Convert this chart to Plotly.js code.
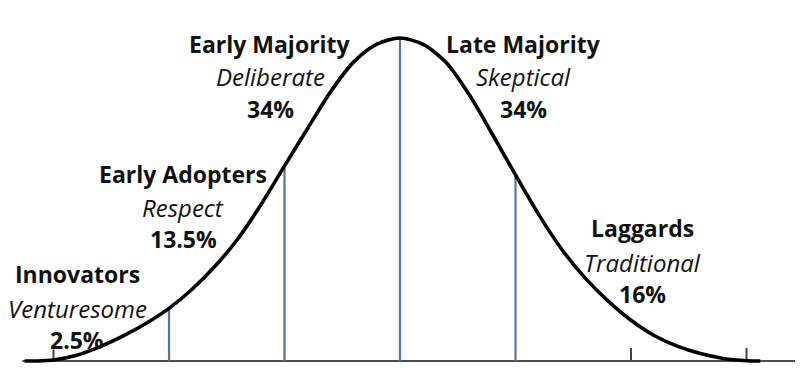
<!DOCTYPE html>
<html>
<head>
<meta charset="utf-8">
<script src="https://cdn.plot.ly/plotly-3.0.1.min.js"></script>
<style>
  html, body { margin: 0; padding: 0; background: #ffffff; }
  #chart { width: 800px; height: 374px; }
</style>
</head>
<body>
<div id="chart"></div>
<script>
// Curve: x in standard deviations, y in % of peak height
const curveX = [-3.25, -3.15, -3.0, -2.8, -2.6, -2.4, -2.2, -2.0, -1.8, -1.6, -1.4, -1.2, -1.0, -0.8, -0.6, -0.4, -0.2, 0.0,
                0.2, 0.4, 0.6, 0.8, 1.0, 1.2, 1.4, 1.6, 1.8, 2.0, 2.2, 2.4, 2.6, 2.8, 3.0, 3.12];
const curveY = [0, 0, 0.3, 1.8, 4.4, 7.7, 11.6, 16.3, 22.2, 29.4, 38.0, 48.6, 60.4, 72.0, 83.4, 92.6, 98.1, 100,
                98.0, 92.4, 82.4, 70.2, 57.6, 45.4, 34.6, 25.8, 18.6, 12.6, 7.9, 4.6, 2.3, 0.8, 0.1, 0];

// Segment dividers (blue) and their heights where they meet the curve
const dividerX = [-2, -1, 0, 1];
const dividerTop = [16.3, 60.4, 100, 57.6];

// Small tick marks on the baseline
const tickX = [-3, 2, 3];
const tickTop = [3.6, 4.0, 4.0];

// Baseline extent
const baselineX = [-3.27, 3.42];

// Categories
const groups = ["Innovators", "Early Adopters", "Early Majority", "Late Majority", "Laggards"];
const traits = ["Venturesome", "Respect", "Deliberate", "Skeptical", "Traditional"];
const shares = ["2.5%", "13.5%", "34%", "34%", "16%"];

// Label placement (pixels: center x, center y of the three lines)
const labelPos = [
  {x: 77,  y: [274, 308, 340]},
  {x: 183, y: [174, 207, 239]},
  {x: 270, y: [44, 77, 109]},
  {x: 523, y: [44, 77, 109]},
  {x: 642, y: [228, 262, 294]}
];

const W = 800, H = 374;
const FONT = '"Open Sans", "Noto Sans", sans-serif';

const traces = [];

// baseline
traces.push({
  x: baselineX, y: [0, 0], mode: 'lines', type: 'scatter',
  line: {color: '#4d4d4d', width: 2}, hoverinfo: 'skip'
});

// ticks
const tx = [], ty = [];
tickX.forEach((v, i) => { tx.push(v, v, null); ty.push(0, tickTop[i], null); });
traces.push({
  x: tx, y: ty, mode: 'lines', type: 'scatter',
  line: {color: '#444444', width: 2}, hoverinfo: 'skip'
});

// dividers
const dx = [], dy = [];
dividerX.forEach((v, i) => { dx.push(v, v, null); dy.push(0, dividerTop[i], null); });
traces.push({
  x: dx, y: dy, mode: 'lines', type: 'scatter',
  line: {color: '#4f73ad', width: 2.2}, hoverinfo: 'skip'
});

// bell curve
traces.push({
  x: curveX, y: curveY, mode: 'lines', type: 'scatter',
  line: {color: '#000000', width: 3.6, shape: 'spline', smoothing: 0.8}, hoverinfo: 'skip'
});

const annotations = [];
groups.forEach((g, i) => {
  const p = labelPos[i];
  const lines = [
    {text: '<b>' + g + '</b>', size: 23},
    {text: '<i>' + traits[i] + '</i>', size: 24},
    {text: '<b>' + shares[i] + '</b>', size: 23}
  ];
  lines.forEach((ln, j) => {
    annotations.push({
      xref: 'paper', yref: 'paper',
      x: p.x / W, y: 1 - p.y[j] / H,
      xanchor: 'center', yanchor: 'middle',
      text: ln.text, showarrow: false,
      font: {family: FONT, size: ln.size, color: '#111111'}
    });
  });
});

const pxToX = px => (px - 400) / 115.5;
const pyToY = py => (361 - py) / 3.23;

const layout = {
  width: W, height: H,
  margin: {l: 0, r: 0, t: 0, b: 0, pad: 0},
  paper_bgcolor: '#ffffff', plot_bgcolor: '#ffffff',
  showlegend: false,
  xaxis: {range: [pxToX(0), pxToX(800)], visible: false, fixedrange: true},
  yaxis: {range: [pyToY(374), pyToY(0)], visible: false, fixedrange: true},
  annotations: annotations
};

Plotly.newPlot('chart', traces, layout, {displayModeBar: false, staticPlot: true});
</script>
</body>
</html>
